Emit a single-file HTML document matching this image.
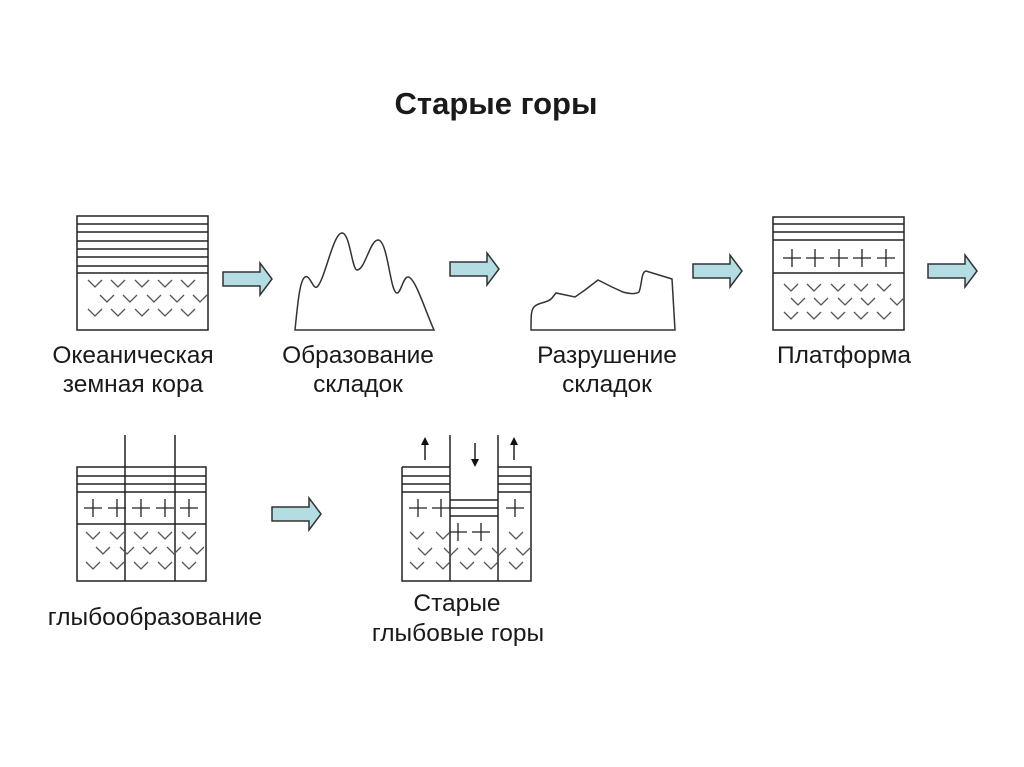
<!DOCTYPE html>
<html><head><meta charset="utf-8"><style>
html,body{margin:0;padding:0;background:#fff;}
svg{display:block;}
text{font-family:"Liberation Sans",Arial,sans-serif;fill:#1a1a1a;}
</style></head><body>
<svg width="1024" height="767" viewBox="0 0 1024 767">
<defs>
<path id="v" d="M0,0 l7,7 l7,-7" fill="none" stroke="#555" stroke-width="1.3"/>
<path id="p" d="M-9,0h18M0,-9v18" fill="none" stroke="#222" stroke-width="1.3"/>
<path id="ar" d="M0,7h37v-9l12,16l-12,16v-9h-37z" fill="#b4dde3" stroke="#333" stroke-width="1.5"/>
<clipPath id="c1"><rect x="77" y="273" width="131" height="57"/></clipPath>
<clipPath id="c4"><rect x="773" y="273" width="131" height="57"/></clipPath>
<clipPath id="c5"><rect x="77" y="524" width="129" height="57"/></clipPath>
<clipPath id="c6"><rect x="402" y="524" width="129" height="57"/></clipPath>
</defs>

<text x="496" y="114" font-size="31" font-weight="bold" text-anchor="middle">Старые горы</text>

<!-- Box 1 -->
<g stroke="#222" stroke-width="1.5" fill="none">
<rect x="77" y="216" width="131" height="114"/>
<path d="M77,224h131M77,232h131M77,241h131M77,249h131M77,257h131M77,266h131M77,273h131"/>
</g>
<g clip-path="url(#c1)">
<use href="#v" x="88" y="280"/><use href="#v" x="111" y="280"/><use href="#v" x="135" y="280"/><use href="#v" x="158" y="280"/><use href="#v" x="181" y="280"/>
<use href="#v" x="100" y="295"/><use href="#v" x="123" y="295"/><use href="#v" x="147" y="295"/><use href="#v" x="170" y="295"/><use href="#v" x="193" y="295"/>
<use href="#v" x="88" y="309"/><use href="#v" x="111" y="309"/><use href="#v" x="135" y="309"/><use href="#v" x="158" y="309"/><use href="#v" x="181" y="309"/>
</g>

<use href="#ar" x="223" y="265"/>
<use href="#ar" x="450" y="255"/>
<use href="#ar" x="693" y="257"/>
<use href="#ar" x="928" y="257"/>
<use href="#ar" x="272" y="500"/>

<!-- Mountains -->
<path d="M295,330 C298,300 300,280 305,277 C310,274 313,290 317,287 C325,280 333,233 342,233 C350,233 352,270 357,270 C365,270 370,240 378,240 C388,240 390,293 397,293 C401,293 403,277 408,277 C415,277 425,310 434,330 Z" fill="none" stroke="#333" stroke-width="1.5"/>
<!-- Erosion -->
<path d="M531,330 C531,315 531,309 535,306 C540,302 548,303 552,298 L556,293 L575,297 L585,290 L598,280 L612,287 L623,292 C630,294 636,294 639,292 C642,285 641,272 646,271 L672,279 L675,330 Z" fill="none" stroke="#333" stroke-width="1.5"/>

<!-- Platform -->
<g stroke="#222" stroke-width="1.5" fill="none">
<rect x="773" y="217" width="131" height="113"/>
<path d="M773,224h131M773,232h131M773,240h131M773,273h131"/>
</g>
<use href="#p" x="792" y="258"/><use href="#p" x="815" y="258"/><use href="#p" x="839" y="258"/><use href="#p" x="862" y="258"/><use href="#p" x="886" y="258"/>
<g clip-path="url(#c4)">
<use href="#v" x="784" y="284"/><use href="#v" x="807" y="284"/><use href="#v" x="831" y="284"/><use href="#v" x="854" y="284"/><use href="#v" x="877" y="284"/>
<use href="#v" x="791" y="298"/><use href="#v" x="814" y="298"/><use href="#v" x="838" y="298"/><use href="#v" x="861" y="298"/><use href="#v" x="890" y="298"/>
<use href="#v" x="784" y="312"/><use href="#v" x="807" y="312"/><use href="#v" x="831" y="312"/><use href="#v" x="854" y="312"/><use href="#v" x="877" y="312"/>
</g>

<!-- Block diagram 1 -->
<g stroke="#222" stroke-width="1.5" fill="none">
<rect x="77" y="467" width="129" height="114"/>
<path d="M77,476h129M77,484h129M77,492h129M77,524h129M125,435V581M175,435V581"/>
</g>
<use href="#p" x="93" y="508"/><use href="#p" x="117" y="508"/><use href="#p" x="141" y="508"/><use href="#p" x="165" y="508"/><use href="#p" x="189" y="508"/>
<g clip-path="url(#c5)">
<use href="#v" x="86" y="532"/><use href="#v" x="110" y="532"/><use href="#v" x="134" y="532"/><use href="#v" x="158" y="532"/><use href="#v" x="182" y="532"/>
<use href="#v" x="96" y="547"/><use href="#v" x="120" y="547"/><use href="#v" x="143" y="547"/><use href="#v" x="167" y="547"/><use href="#v" x="190" y="547"/>
<use href="#v" x="86" y="562"/><use href="#v" x="110" y="562"/><use href="#v" x="134" y="562"/><use href="#v" x="158" y="562"/><use href="#v" x="182" y="562"/>
</g>

<!-- Block diagram 2 -->
<g stroke="#222" stroke-width="1.5" fill="none">
<path d="M402,467V581H531V467H498M450,467H402M402,476h48M402,484h48M402,492h48M498,476h33M498,484h33M498,492h33M450,500h48M450,508h48M450,516h48M450,435V581M498,435V581"/>
<path d="M425,460V443M514,460V443M475,443V460"/>
</g>
<path d="M425,437l-4,8h8z M514,437l-4,8h8z M475,467l-4,-8h8z" fill="#111"/>
<use href="#p" x="418" y="508"/><use href="#p" x="441" y="508"/><use href="#p" x="515" y="508"/>
<use href="#p" x="458" y="532"/><use href="#p" x="481" y="532"/>
<g clip-path="url(#c6)">
<use href="#v" x="410" y="532"/><use href="#v" x="436" y="532"/><use href="#v" x="509" y="532"/>
<use href="#v" x="418" y="548"/><use href="#v" x="444" y="548"/><use href="#v" x="468" y="548"/><use href="#v" x="492" y="548"/><use href="#v" x="516" y="548"/>
<use href="#v" x="410" y="562"/><use href="#v" x="436" y="562"/><use href="#v" x="460" y="562"/><use href="#v" x="484" y="562"/><use href="#v" x="509" y="562"/>
</g>

<!-- Labels -->
<g font-size="24.5" text-anchor="middle">
<text x="133" y="363">Океаническая</text>
<text x="133" y="392">земная кора</text>
<text x="358" y="363">Образование</text>
<text x="358" y="392">складок</text>
<text x="607" y="363">Разрушение</text>
<text x="607" y="392">складок</text>
<text x="844" y="363">Платформа</text>
<text x="155" y="625">глыбообразование</text>
<text x="457" y="611">Старые</text>
<text x="458" y="641">глыбовые горы</text>
</g>
</svg>
</body></html>
